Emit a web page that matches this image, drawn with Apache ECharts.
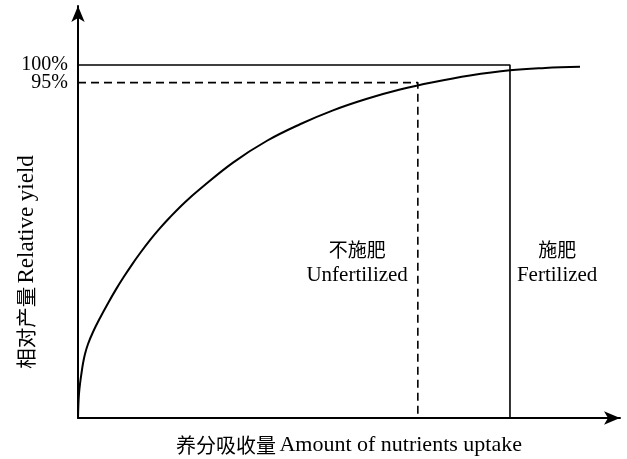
<!DOCTYPE html>
<html><head><meta charset="utf-8">
<script src="https://cdn.jsdelivr.net/npm/echarts@6/dist/echarts.min.js"></script>
<style>html,body{margin:0;padding:0;background:#fff}#c{width:627px;height:459px}</style>
</head><body><div id="c"></div>
<script>
// Response curve (x: nutrient uptake, relative units; y: relative yield %)
const curveX = [0, 0.07, 0.18, 0.37, 0.65, 0.92, 1.29, 1.85, 2.77, 4.06, 5.54, 7.01, 8.49, 9.96, 11.44, 13.28, 15.13, 16.97, 19.74, 22.51, 28.60, 34.87, 40.96, 47.05, 53.32, 59.41, 65.50, 72.32, 79.70, 86.16, 92.62];
const curveY = [0, 3.68, 6.80, 9.63, 12.75, 15.44, 18.13, 20.96, 24.36, 28.33, 32.52, 36.43, 40.06, 43.46, 46.66, 50.37, 53.77, 56.88, 61.13, 64.87, 72.35, 78.53, 83.20, 87.14, 90.42, 93.03, 95.10, 96.99, 98.47, 99.12, 99.46];
const unfertX = 62.7;   // uptake at 95% yield
const fertX = 79.7;     // uptake at 100% yield
const yTicks = [100, 95];
const yTickLabels = ['100%', '95%'];
const textLabels = [
  {x: 51.5, y: 44.0, zh: '不施肥', en: 'Unfertilized'},
  {x: 88.4, y: 44.0, zh: '施肥', en: 'Fertilized'}
];
const xNameZh = '养分吸收量', xNameEn = 'Amount of nutrients uptake';
const yNameZh = '相对产量', yNameEn = 'Relative yield';

const SERIF = '"Liberation Serif","Times New Roman",serif';
const CJK = '"Noto Sans CJK SC",sans-serif';
const rich = {
  c: {fontFamily: CJK, fontSize: 19, color: '#000'},
  e: {fontFamily: SERIF, fontSize: 21, color: '#000'}
};
const richX = {
  c: {fontFamily: CJK, fontSize: 20, color: '#000'},
  e: {fontFamily: SERIF, fontSize: 22, color: '#000'}
};
const richY = {
  c: {fontFamily: CJK, fontSize: 20.5, color: '#000'},
  e: {fontFamily: SERIF, fontSize: 23, color: '#000'}
};
const Y_MAX = 116.7;
function tickAxis(i, withLine) {
  return {
    type: 'value', min: 0, max: Y_MAX, position: 'left', offset: 0,
    name: withLine ? '{c|' + yNameZh + '} {e|' + yNameEn + '}' : '',
    nameLocation: 'middle', nameGap: 40, nameRotate: 90, nameMoveOverlap: false,
    nameTextStyle: {rich: richY, padding: [0, 100, 0, 0]},
    axisLine: {show: withLine, symbol: ['none', 'arrow'], symbolSize: [10, 16], lineStyle: {color: '#000', width: 2}},
    axisTick: {show: false},
    axisLabel: {show: true, customValues: [yTicks[i]], margin: 10, hideOverlap: false,
      formatter: v => yTickLabels[yTicks.indexOf(v)] || '',
      fontFamily: SERIF, fontSize: 20, color: '#000'},
    splitLine: {show: false}
  };
}
const chart = echarts.init(document.getElementById('c'));
chart.setOption({
  animation: false,
  backgroundColor: '#fff',
  grid: {left: 78, right: 7, top: 6, bottom: 41, containLabel: false, outerBoundsMode: 'none'},
  xAxis: {
    type: 'value', min: 0, max: 100,
    name: '{c|' + xNameZh + '} {e|' + xNameEn + '}', nameLocation: 'middle', nameGap: 16,
    nameMoveOverlap: false,
    nameTextStyle: {rich: richX},
    axisLine: {show: true, symbol: ['none', 'arrow'], symbolSize: [10, 16], lineStyle: {color: '#000', width: 2}},
    axisTick: {show: false}, axisLabel: {show: false}, splitLine: {show: false}
  },
  yAxis: [tickAxis(0, true), tickAxis(1, false)],
  series: [
    {type: 'line', data: curveX.map((x, i) => [x, curveY[i]]), smooth: 0.4, symbol: 'none',
     lineStyle: {color: '#000', width: 2}},
    {type: 'line', data: [[0, 100], [fertX, 100], [fertX, 0]], symbol: 'none',
     lineStyle: {color: '#000', width: 1.6}},
    {type: 'line', data: [[0, 95], [unfertX, 95], [unfertX, 0]], symbol: 'none',
     lineStyle: {color: '#000', width: 1.6, type: [8, 5]}},
    {type: 'scatter', symbolSize: 0, itemStyle: {color: '#000', opacity: 1},
     data: textLabels.map(t => [t.x, t.y, t.zh, t.en]),
     label: {show: true, position: 'inside', color: '#000', opacity: 1, textBorderWidth: 0,
       formatter: p => '{c|' + p.data[2] + '}\n{e|' + p.data[3] + '}',
       rich: {c: Object.assign({lineHeight: 26, textBorderWidth: 0}, rich.c),
              e: Object.assign({lineHeight: 26, textBorderWidth: 0}, rich.e)},
       align: 'center'}}
  ]
});
</script></body></html>
